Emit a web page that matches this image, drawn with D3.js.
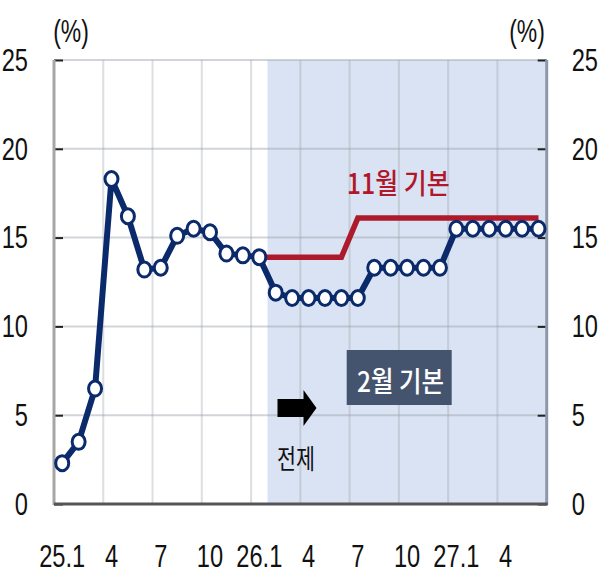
<!DOCTYPE html>
<html>
<head>
<meta charset="utf-8">
<script src="https://cdn.jsdelivr.net/npm/d3@7"></script>
<style>
  body { margin: 0; background: #fff; }
  svg text { font-family: "Liberation Sans", Arial, sans-serif; }
</style>
</head>
<body>
<div id="chart"></div>
<script>
// months on the x axis (25.1 ~ 27.6)
var months = ["25.1","25.2","25.3","25.4","25.5","25.6","25.7","25.8","25.9","25.10","25.11","25.12",
              "26.1","26.2","26.3","26.4","26.5","26.6","26.7","26.8","26.9","26.10","26.11","26.12",
              "27.1","27.2","27.3","27.4","27.5","27.6"];

// 2월 기본 (blue, markers)
var febValues = [2.3, 3.5, 6.5, 18.3, 16.2, 13.2, 13.3, 15.1, 15.5, 15.3, 14.1, 14.0,
                 13.9, 11.9, 11.6, 11.6, 11.6, 11.6, 11.6, 13.3, 13.3, 13.3, 13.3, 13.3,
                 15.5, 15.5, 15.5, 15.5, 15.5, 15.5];

// 11월 기본 (red line), from 26.1
var novMonths = months.slice(12);
var novValues = [13.9, 13.9, 13.9, 13.9, 13.9, 13.9, 16.1, 16.1, 16.1, 16.1, 16.1, 16.1,
                 16.1, 16.1, 16.1, 16.1, 16.1, 16.1];

var xTickMonths = ["25.1","25.4","25.7","25.10","26.1","26.4","26.7","26.10","27.1","27.4"];
var xTickLabels = ["25.1","4","7","10","26.1","4","7","10","27.1","4"];
var yTicks = [0, 5, 10, 15, 20, 25];
var gridMonths = ["25.4","25.7","25.10","26.1","26.4","26.7","26.10","27.1","27.4"];
var forecastStart = "26.2";

var W = 606, H = 581;
var mLeft = 54, mRight = 546.7, mTop = 60, mBottom = 504;
var squeezeX = 0.74;

var svg = d3.select('#chart').append('svg')
  .attr('width', W)
  .attr('height', H);

var x = d3.scaleBand().domain(months).range([mLeft, mRight]).padding(0);
var y = d3.scaleLinear().domain([0, 25]).range([mBottom, mTop]);
var cx = function(m) { return x(m) + x.bandwidth() / 2; };

// narrow the digits like the original
function squeeze(sel) {
  sel.each(function() {
    var t = d3.select(this);
    var tx = +t.attr('x') || 0;
    t.attr('x', tx / squeezeX).attr('transform', 'scale(' + squeezeX + ',1)');
  });
}

// shaded forecast area
svg.append('rect')
  .attr('x', x(forecastStart))
  .attr('y', mTop)
  .attr('width', mRight - x(forecastStart))
  .attr('height', mBottom - mTop)
  .attr('fill', '#dae3f3');

// grid
svg.append('g').selectAll('line')
  .data(yTicks.filter(function(d) { return d > 0; }))
  .enter().append('line')
  .attr('x1', mLeft).attr('x2', mRight)
  .attr('y1', function(d) { return y(d); })
  .attr('y2', function(d) { return y(d); })
  .attr('stroke', '#9aa0a8').attr('stroke-opacity', 0.45).attr('stroke-width', 2);

svg.append('g').selectAll('line')
  .data(gridMonths)
  .enter().append('line')
  .attr('x1', function(d) { return x(d); })
  .attr('x2', function(d) { return x(d); })
  .attr('y1', mTop).attr('y2', mBottom)
  .attr('stroke', '#9aa0a8').attr('stroke-opacity', 0.35).attr('stroke-width', 2);

// axes
var yLeft = d3.axisLeft(y).tickValues(yTicks).tickSizeInner(-9).tickSizeOuter(0).tickPadding(26);
var yRight = d3.axisRight(y).tickValues(yTicks).tickSizeInner(-9).tickSizeOuter(0).tickPadding(25);

var gl = svg.append('g').attr('transform', 'translate(' + mLeft + ',0)').call(yLeft);
var gr = svg.append('g').attr('transform', 'translate(' + mRight + ',0)').call(yRight);
[gl, gr].forEach(function(g) {
  g.select('.domain').remove();
  g.selectAll('.tick line').attr('stroke', '#222').attr('stroke-width', 2);
  g.selectAll('.tick text').attr('font-size', 32).attr('fill', '#111')
    .style('font-family', '"Liberation Sans", Arial, sans-serif').call(squeeze);
});

svg.append('line')
  .attr('x1', mLeft).attr('x2', mLeft).attr('y1', mTop).attr('y2', mBottom + 1)
  .attr('stroke', '#a6a6a6').attr('stroke-width', 3);
svg.append('line')
  .attr('x1', mRight).attr('x2', mRight).attr('y1', mTop).attr('y2', mBottom + 1)
  .attr('stroke', '#8e98ab').attr('stroke-width', 3);

var xAxis = d3.axisBottom(x)
  .tickValues(xTickMonths)
  .tickFormat(function(d, i) { return xTickLabels[i]; })
  .tickSize(0)
  .tickPadding(40);

var gx = svg.append('g').attr('transform', 'translate(0,' + mBottom + ')').call(xAxis);
gx.select('.domain').remove();
gx.selectAll('.tick text').attr('font-size', 32).attr('fill', '#111')
  .style('font-family', '"Liberation Sans", Arial, sans-serif').call(squeeze);

svg.append('line')
  .attr('x1', mLeft).attr('x2', mRight + 1).attr('y1', mBottom).attr('y2', mBottom)
  .attr('stroke', '#555').attr('stroke-width', 3);

// unit labels
svg.append('text').attr('x', 71).attr('y', 42).attr('text-anchor', 'middle')
  .attr('font-size', 31).attr('fill', '#111').text('(%)').call(squeeze);
svg.append('text').attr('x', 527).attr('y', 42).attr('text-anchor', 'middle')
  .attr('font-size', 31).attr('fill', '#111').text('(%)').call(squeeze);

// 11월 기본 line
var line = d3.line()
  .x(function(d) { return cx(d[0]); })
  .y(function(d) { return y(d[1]); });

svg.append('path')
  .datum(d3.zip(novMonths, novValues))
  .attr('d', line)
  .attr('fill', 'none')
  .attr('stroke', '#ad1a2b')
  .attr('stroke-width', 5.5);

// 2월 기본 line with markers
svg.append('path')
  .datum(d3.zip(months, febValues))
  .attr('d', line)
  .attr('fill', 'none')
  .attr('stroke', '#0b2a6c')
  .attr('stroke-width', 6)
  .attr('stroke-linejoin', 'round');

svg.append('g').selectAll('ellipse')
  .data(d3.zip(months, febValues))
  .enter().append('ellipse')
  .attr('cx', function(d) { return cx(d[0]); })
  .attr('cy', function(d) { return y(d[1]); })
  .attr('rx', 6.5)
  .attr('ry', 7.5)
  .attr('fill', '#fff')
  .attr('stroke', '#0b2a6c')
  .attr('stroke-width', 3);

// annotations
var kr = '"Noto Sans CJK KR", sans-serif';

svg.append('text')
  .attr('x', 346.7).attr('y', 194)
  .style('font-family', kr).attr('font-size', 28).attr('font-weight', 500)
  .attr('fill', '#b0172a')
  .attr('textLength', 103).attr('lengthAdjust', 'spacingAndGlyphs')
  .text('11월 기본');

svg.append('rect')
  .attr('x', 346.7).attr('y', 350).attr('width', 105).attr('height', 55)
  .attr('fill', '#45546e');
svg.append('text')
  .attr('x', 357).attr('y', 392)
  .style('font-family', kr).attr('font-size', 28).attr('font-weight', 500)
  .attr('fill', '#fff')
  .attr('textLength', 87).attr('lengthAdjust', 'spacingAndGlyphs')
  .text('2월 기본');

var ax = x(forecastStart) + 10, ay = y(5.4);
svg.append('path')
  .attr('d', 'M' + ax + ',' + (ay - 9) + 'h26v-9l13,18l-13,18v-9h-26z')
  .attr('fill', '#000');

svg.append('text')
  .attr('x', 277).attr('y', 469)
  .style('font-family', kr).attr('font-size', 27)
  .attr('fill', '#111')
  .attr('textLength', 38).attr('lengthAdjust', 'spacingAndGlyphs')
  .text('전제');
</script>
</body>
</html>
